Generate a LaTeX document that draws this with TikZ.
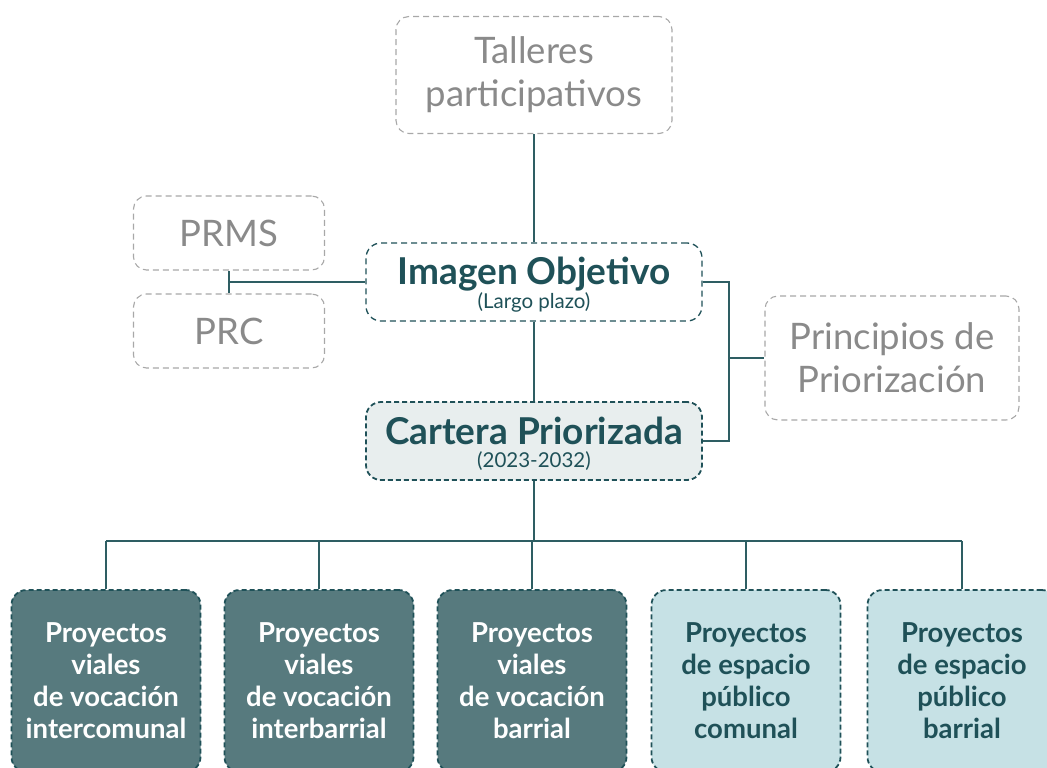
\documentclass[tikz,border=0pt]{standalone}
\usepackage{fontspec}
\setmainfont{Lato}
\usepackage{tikz}
\usetikzlibrary{calc,positioning}
\definecolor{tealdark}{HTML}{1F5158}
\definecolor{tealline}{HTML}{2E5E63}
\definecolor{tealfill}{HTML}{577A7E}
\definecolor{lightteal}{HTML}{C6E1E5}
\definecolor{palegray}{HTML}{E8EEEE}
\definecolor{softgray}{HTML}{8A8A8A}
\definecolor{bordergray}{HTML}{A8A8A8}
\newcommand{\coretitle}[2]{{\fontsize{37}{40}\selectfont\bfseries #1\rule[-7pt]{0pt}{40pt}}\\{\fontsize{20.5}{24}\selectfont #2}}

\begin{document}
\begin{tikzpicture}[
  x=1pt,y=-1pt,
  outer/.style={rectangle,rounded corners=13pt,draw=bordergray,
    dash pattern=on 6pt off 4pt,line width=1.1pt,text=softgray,
    font=\fontsize{36.5}{43}\selectfont,align=center,inner sep=0pt},
  core/.style={rectangle,rounded corners=15pt,draw=tealdark,
    dash pattern=on 6pt off 4pt,line width=1.3pt,text=tealdark,
    minimum width=336pt,minimum height=78pt,align=center,inner sep=0pt},
  proy/.style={rectangle,rounded corners=15pt,draw=tealdark,
    dash pattern=on 5pt off 3pt,line width=1.8pt,
    minimum width=189pt,minimum height=182pt,align=center,inner sep=0pt,
    font=\fontsize{27.5}{32}\selectfont\bfseries},
  link/.style={line width=1.3pt,draw=tealline}
]
  \useasboundingbox (0,0) rectangle (1047,768);

  % upper part
  \node[outer,minimum width=276pt,minimum height=117pt] (talleres) at (534,75) {Talleres\\participativos};
  \node[outer,minimum width=191pt,minimum height=74pt] (prms) at (229,233) {PRMS};
  \node[outer,minimum width=191pt,minimum height=74pt] (prc) at (229,331) {PRC};
  \node[outer,minimum width=254pt,minimum height=124pt] (principios) at (892,358) {Principios de\\Priorización};

  \node[core,fill=white] (imagen) at (534,282) {\coretitle{Imagen Objetivo}{(Largo plazo)}};
  \node[core,fill=palegray,line width=1.8pt,dash pattern=on 5pt off 3pt] (cartera) at (534,441)
    {\coretitle{Cartera Priorizada}{(2023-2032)}};

  % lower part
  \node[proy,fill=tealfill,text=white] (vinter) at (106,681) {Proyectos\\viales\\de vocación\\intercomunal};
  \node[proy,fill=tealfill,text=white] (vbarrio) at (319,681) {Proyectos\\viales\\de vocación\\interbarrial};
  \node[proy,fill=tealfill,text=white] (vbarrial) at (532,681) {Proyectos\\viales\\de vocación\\barrial};
  \node[proy,fill=lightteal,text=tealdark] (ecomunal) at (746,681) {Proyectos\\de espacio\\público\\comunal};
  \node[proy,fill=lightteal,text=tealdark] (ebarrial) at (962,681) {Proyectos\\de espacio\\público\\barrial};

  \coordinate (pleft) at (229,282);
  \coordinate (pright) at (729,282);
  \coordinate (rail) at (534,541);

  \draw[link] (talleres) -- (imagen);
  \draw[link] (prms) -- (prc);
  \draw[link] (pleft) -- (imagen.west);
  \draw[link] (imagen) -- (cartera);
  \draw[link] (imagen.east) -- (pright) |- (cartera.east);
  \draw[link] (pright |- principios.west) -- (principios.west);
  \draw[link] (cartera) -- (rail);
  \draw[link] (vinter.north |- rail) -- (ebarrial.north |- rail);
  \foreach \b in {vinter,vbarrio,vbarrial,ecomunal,ebarrial}
    \draw[link] (\b.north |- rail) -- (\b.north);
\end{tikzpicture}
\end{document}
